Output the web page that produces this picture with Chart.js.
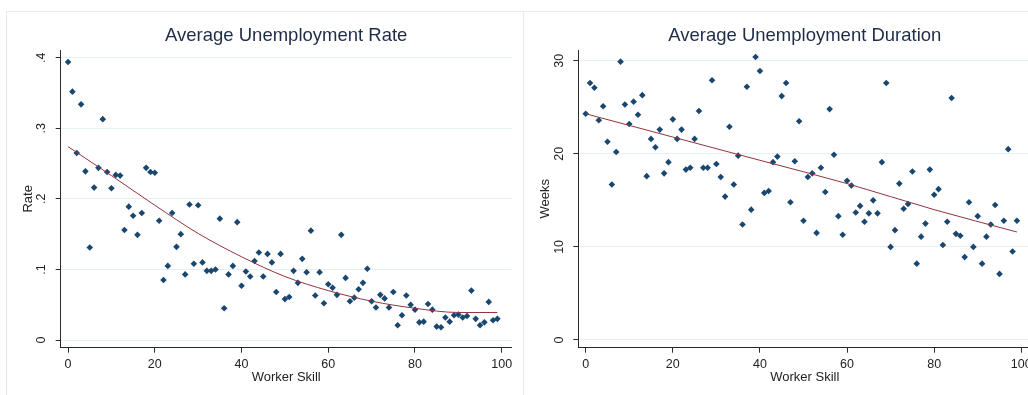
<!DOCTYPE html>
<html>
<head>
<meta charset="utf-8">
<title>Average Unemployment</title>
<script src="https://cdn.jsdelivr.net/npm/chart.js@4.4.1/dist/chart.umd.min.js"></script>
<style>
  html, body { margin: 0; padding: 0; background: #fff; width: 1028px; height: 395px; overflow: hidden; }
  .panel { position: absolute; top: 11px; height: 384px; width: 600px;
           border-top: 1px solid #e3ebef; border-left: 1px solid #e3ebef; background: #fff; }
  #leftPanel { left: 6px; }
  #rightPanel { left: 523px; }
  canvas { display: block; }
</style>
</head>
<body>
  <div class="panel" id="leftPanel"><canvas id="rateChart" width="513" height="383"></canvas></div>
  <div class="panel" id="rightPanel"><canvas id="durationChart" width="513" height="383"></canvas></div>

<script>
    // Worker skill levels (x categories)
    const skill = [
      0, 1, 2, 3, 4, 5, 6, 7, 8, 9, 10, 11, 12, 13, 14, 15, 16, 17, 18, 19,
      20, 21, 22, 23, 24, 25, 26, 27, 28, 29, 30, 31, 32, 33, 34, 35, 36, 37, 38, 39,
      40, 41, 42, 43, 44, 45, 46, 47, 48, 49, 50, 51, 52, 53, 54, 55, 56, 57, 58, 59,
      60, 61, 62, 63, 64, 65, 66, 67, 68, 69, 70, 71, 72, 73, 74, 75, 76, 77, 78, 79,
      80, 81, 82, 83, 84, 85, 86, 87, 88, 89, 90, 91, 92, 93, 94, 95, 96, 97, 98, 99
    ];

    // Average unemployment rate by skill
    const rate = [
      0.394, 0.352, 0.265, 0.334, 0.239, 0.131, 0.216, 0.244, 0.313, 0.238,
      0.215, 0.234, 0.233, 0.156, 0.189, 0.176, 0.149, 0.180, 0.244, 0.238,
      0.237, 0.169, 0.085, 0.105, 0.180, 0.132, 0.150, 0.093, 0.192, 0.108,
      0.191, 0.110, 0.098, 0.098, 0.100, 0.172, 0.045, 0.093, 0.105, 0.167,
      0.077, 0.097, 0.090, 0.112, 0.124, 0.090, 0.122, 0.110, 0.068, 0.122,
      0.058, 0.061, 0.098, 0.081, 0.115, 0.096, 0.155, 0.063, 0.096, 0.052,
      0.079, 0.074, 0.064, 0.149, 0.088, 0.055, 0.060, 0.072, 0.081, 0.101,
      0.055, 0.046, 0.064, 0.059, 0.046, 0.068, 0.021, 0.035, 0.063, 0.050,
      0.043, 0.025, 0.026, 0.051, 0.043, 0.019, 0.018, 0.032, 0.026, 0.035,
      0.036, 0.032, 0.034, 0.070, 0.030, 0.021, 0.025, 0.054, 0.028, 0.030
    ];

    // Average unemployment duration (weeks) by skill
    const weeks = [
      24.3, 27.6, 27.1, 23.6, 25.1, 21.3, 16.7, 20.2, 29.9, 25.3,
      23.2, 25.6, 24.2, 26.3, 17.6, 21.6, 20.7, 22.6, 17.9, 19.1,
      23.7, 21.6, 22.6, 18.3, 18.5, 21.6, 24.6, 18.5, 18.5, 27.9,
      18.9, 17.5, 15.4, 22.9, 16.7, 19.8, 12.4, 27.2, 14.0, 30.4,
      28.9, 15.8, 16.0, 19.1, 19.7, 26.2, 27.6, 14.8, 19.2, 23.5,
      12.8, 17.5, 17.9, 11.5, 18.5, 15.9, 24.8, 19.9, 13.3, 11.3,
      17.1, 16.6, 13.7, 14.4, 12.7, 13.6, 15.0, 13.6, 19.1, 27.6,
      10.0, 11.8, 16.8, 14.1, 14.6, 18.1, 8.2, 11.1, 12.5, 18.3,
      15.6, 16.2, 10.2, 12.7, 26.0, 11.4, 11.2, 8.9, 14.8, 10.0,
      13.3, 8.2, 11.1, 12.4, 14.5, 7.1, 12.8, 20.5, 9.5, 12.8
    ];

    // Fitted curves
    const rateFitSkill = [0, 10, 20, 30, 40, 50, 60, 70, 80, 90, 99];
    const rateFit = [0.274, 0.233, 0.191, 0.151, 0.118, 0.090, 0.070, 0.055, 0.045, 0.039, 0.039];
    const weeksFitSkill = [0, 20, 40, 60, 80, 99];
    const weeksFit = [24.3, 21.8, 19.3, 16.8, 14.0, 11.6];

    // Tick values and labels
    const skillTicks = [0, 20, 40, 60, 80, 100];
    const rateTicks = [0, 0.1, 0.2, 0.3, 0.4];
    const rateTickLabels = ['0', '.1', '.2', '.3', '.4'];
    const weekTicks = [0, 10, 20, 30];
    const weekTickLabels = ['0', '10', '20', '30'];

    const FONT = "'Liberation Sans', Arial, sans-serif";
    const NAVY = '#1a476f';
    const MAROON = '#90353b';
    const AXIS = '#2b2b2b';
    const GRID = '#e6eff1';
    const TEXT = '#222';
    const TITLE = '#1e2c48';

    function toPoints(xs, ys) {
      return xs.map((x, i) => ({ x: x, y: ys[i] }));
    }

    // Build one Stata-style scatter + fit panel
    function makePanel(id, cfg) {
      const ctx = document.getElementById(id).getContext('2d');
      return new Chart(ctx, {
        type: 'scatter',
        data: {
          datasets: [
            {
              type: 'scatter',
              data: toPoints(skill, cfg.values),
              pointStyle: 'rectRot',
              pointRadius: 3.3,
              backgroundColor: NAVY,
              borderColor: NAVY,
              borderWidth: 0,
              order: 1
            },
            {
              type: 'line',
              data: toPoints(cfg.fitX, cfg.fitY),
              borderColor: MAROON,
              borderWidth: 1,
              pointRadius: 0,
              cubicInterpolationMode: 'monotone',
              fill: false,
              order: 0
            }
          ]
        },
        options: {
          responsive: false,
          animation: false,
          layout: { padding: { left: 0, top: 0, bottom: 0, right: cfg.padRight } },
          plugins: {
            legend: { display: false },
            tooltip: { enabled: false },
            title: {
              display: true,
              fullSize: false,   // center over the plot area, like Stata
              text: cfg.title,
              color: TITLE,
              font: { family: FONT, size: 18.5, weight: 'normal' },
              padding: { top: 13, bottom: 2.8 }
            }
          },
          scales: {
            x: {
              type: 'linear',
              min: -1.7,
              max: 102.3,
              afterBuildTicks: s => { s.ticks = skillTicks.map(v => ({ value: v })); },
              afterFit: s => { s.height = 47.3; },
              grid: { drawOnChartArea: false, tickLength: 5, tickColor: AXIS, tickWidth: 1 },
              border: { color: AXIS, width: 1 },
              ticks: { autoSkip: false, maxRotation: 0, padding: 4, color: TEXT,
                       font: { family: FONT, size: 12.5 } },
              title: { display: true, text: 'Worker Skill', color: TEXT,
                       font: { family: FONT, size: 13 }, padding: { top: 0, bottom: 10.2 } }
            },
            y: {
              type: 'linear',
              min: cfg.yMin,
              max: cfg.yMax,
              afterBuildTicks: s => { s.ticks = cfg.yTicks.map(v => ({ value: v })); },
              afterFit: s => { s.width = cfg.yWidth; },
              grid: { color: GRID, lineWidth: 1, tickLength: 5, tickColor: AXIS, tickWidth: 1 },
              border: { color: AXIS, width: 1 },
              ticks: {
                autoSkip: false,
                minRotation: 90,
                maxRotation: 90,
                crossAlign: 'center',
                padding: cfg.yPad,
                color: TEXT,
                font: { family: FONT, size: 12.5 },
                callback: (value, index) => cfg.yLabels[index]
              },
              title: { display: true, text: cfg.yTitle, color: TEXT,
                       font: { family: FONT, size: 13 }, padding: { top: 13.2, bottom: 0 } }
            }
          }
        }
      });
    }

    document.addEventListener('DOMContentLoaded', function() {
      makePanel('rateChart', {
        title: 'Average Unemployment Rate',
        values: rate,
        fitX: rateFitSkill,
        fitY: rateFit,
        yMin: -0.0109,
        yMax: 0.411,
        yTicks: rateTicks,
        yLabels: rateTickLabels,
        yTitle: 'Rate',
        yWidth: 53.7,
        yPad: 8.5,
        padRight: 8.3
      });

      makePanel('durationChart', {
        title: 'Average Unemployment Duration',
        values: weeks,
        fitX: weeksFitSkill,
        fitY: weeksFit,
        yMin: -0.83,
        yMax: 31.15,
        yTicks: weekTicks,
        yLabels: weekTickLabels,
        yTitle: 'Weeks',
        yWidth: 54.3,
        yPad: 6.35,
        padRight: 5.7
      });
    });
</script>
</body>
</html>
